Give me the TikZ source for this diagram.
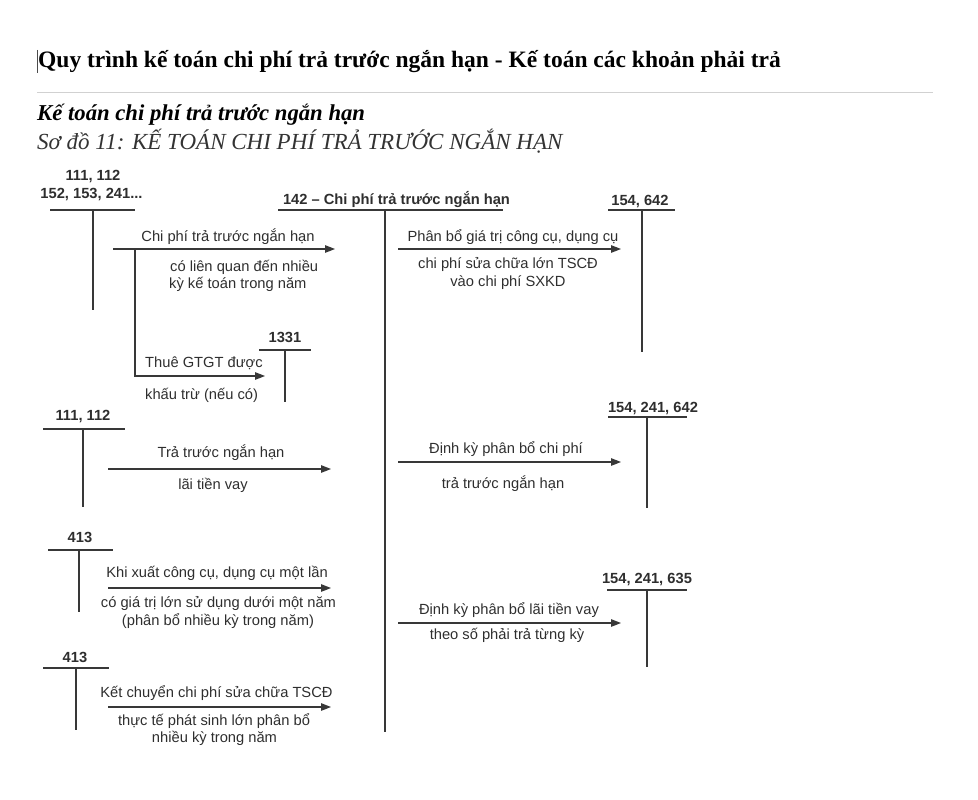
\documentclass[tikz,border=0pt]{standalone}
\usepackage{fontspec}
\setmainfont{Liberation Serif}
\newfontfamily\arialf{Liberation Sans}
\usetikzlibrary{arrows.meta}
\begin{document}
\begin{tikzpicture}[x=1pt,y=-1pt,
  lbl/.style={font=\arialf\fontsize{14.7}{16}\selectfont, text=black!82, inner sep=0pt, anchor=base},
  lblw/.style={lbl, anchor=base west},
  acc/.style={lbl, font=\arialf\bfseries\fontsize{14.7}{16}\selectfont},
  tline/.style={line width=1.3pt, draw=black!78},
  arr/.style={tline, -{Triangle[length=10pt,width=7.5pt]}},
  head/.style={anchor=base west, inner sep=0pt, text=black}
]
\useasboundingbox (0,0) rectangle (978,800);

% ---- headings ----
\draw[black!70, line width=0.9pt] (37,50) -- (37,73);
\node[head, font=\bfseries\fontsize{23.5}{26}\selectfont] (title) at (38,68)
  {Quy trình kế toán chi phí trả trước ngắn hạn - Kế toán các khoản phải trả};
\draw[black!18, line width=1pt] (37,93) -- (933,93);
\node[head, font=\bfseries\itshape\fontsize{22.7}{25}\selectfont] (sub) at (37,121)
  {Kế toán chi phí trả trước ngắn hạn};
\node[head, text=black!80, font=\itshape\fontsize{23}{25}\selectfont] (cap) at (37,149)
  {Sơ đồ 11: KẾ TOÁN CHI PHÍ TRẢ TRƯỚC NGẮN HẠN};

% ---- T-accounts ----
% account 111,112 / 152,153,241...
\node[acc] (a1n) at (93,180) {111, 112};
\node[acc] (a1m) at (91.5,198) {152, 153, 241...};
\coordinate (a1l) at (50,210); \coordinate (a1r) at (135,210);
\coordinate (a1t) at (93,210); \coordinate (a1b) at (93,310);
\draw[tline] (a1l) -- (a1r); \draw[tline] (a1t) -- (a1b);

% account 1331
\node[acc] (a2n) at (285,342) {1331};
\coordinate (a2l) at (259,350); \coordinate (a2r) at (311,350);
\coordinate (a2t) at (285,350); \coordinate (a2b) at (285,402);
\draw[tline] (a2l) -- (a2r); \draw[tline] (a2t) -- (a2b);

% account 142
\node[acc] (a3n) at (396.5,204) {142 – Chi phí trả trước ngắn hạn};
\coordinate (a3l) at (278,210); \coordinate (a3r) at (503,210);
\coordinate (a3t) at (385,210); \coordinate (a3b) at (385,732);
\draw[tline] (a3l) -- (a3r); \draw[tline] (a3t) -- (a3b);

% account 154, 642
\node[acc] (a4n) at (640,205) {154, 642};
\coordinate (a4l) at (608,210); \coordinate (a4r) at (675,210);
\coordinate (a4t) at (642,210); \coordinate (a4b) at (642,352);
\draw[tline] (a4l) -- (a4r); \draw[tline] (a4t) -- (a4b);

% account 111, 112 (second)
\node[acc] (a5n) at (83,420) {111, 112};
\coordinate (a5l) at (43,429); \coordinate (a5r) at (125,429);
\coordinate (a5t) at (83,429); \coordinate (a5b) at (83,507);
\draw[tline] (a5l) -- (a5r); \draw[tline] (a5t) -- (a5b);

% account 154, 241, 642
\node[acc] (a6n) at (653,412) {154, 241, 642};
\coordinate (a6l) at (608,417); \coordinate (a6r) at (687,417);
\coordinate (a6t) at (647,417); \coordinate (a6b) at (647,508);
\draw[tline] (a6l) -- (a6r); \draw[tline] (a6t) -- (a6b);

% account 413 (first)
\node[acc] (a7n) at (80,542) {413};
\coordinate (a7l) at (48,550); \coordinate (a7r) at (113,550);
\coordinate (a7t) at (79,550); \coordinate (a7b) at (79,612);
\draw[tline] (a7l) -- (a7r); \draw[tline] (a7t) -- (a7b);

% account 154, 241, 635
\node[acc] (a8n) at (647,583) {154, 241, 635};
\coordinate (a8l) at (607,590); \coordinate (a8r) at (687,590);
\coordinate (a8t) at (647,590); \coordinate (a8b) at (647,667);
\draw[tline] (a8l) -- (a8r); \draw[tline] (a8t) -- (a8b);

% account 413 (second)
\node[acc] (a9n) at (75,662) {413};
\coordinate (a9l) at (43,668); \coordinate (a9r) at (109,668);
\coordinate (a9t) at (76,668); \coordinate (a9b) at (76,730);
\draw[tline] (a9l) -- (a9r); \draw[tline] (a9t) -- (a9b);

% ---- arrows ----
% 1: Chi phi tra truoc ngan han
\coordinate (r1s) at (113,249); \coordinate (r1e) at (335,249);
\draw[arr] (r1s) -- (r1e);
\node[lbl] (r1a) at (228,241.5) {Chi phí trả trước ngắn hạn};
\node[lblw] (r1b) at (170,271) {có liên quan đến nhiều};
\node[lblw] (r1c) at (169,288) {kỳ kế toán trong năm};

% branch: VAT
\coordinate (r2s) at (135,249); \coordinate (r2k) at (135,376); \coordinate (r2e) at (265,376);
\draw[arr] (r2s) -- (r2k) -- (r2e);
\node[lblw] (r2a) at (145,367) {Thuê GTGT được};
\node[lblw] (r2b) at (145,399) {khấu trừ (nếu có)};

% 3: Phan bo
\coordinate (r3s) at (398,249); \coordinate (r3e) at (621,249);
\draw[arr] (r3s) -- (r3e);
\node[lbl] (r3a) at (513,241.5) {Phân bổ giá trị công cụ, dụng cụ};
\node[lbl] (r3b) at (508,268.5) {chi phí sửa chữa lớn TSCĐ};
\node[lbl] (r3c) at (508,286.5) {vào chi phí SXKD};

% 4: Tra truoc ngan han lai tien vay
\coordinate (r4s) at (108,469); \coordinate (r4e) at (331,469);
\draw[arr] (r4s) -- (r4e);
\node[lbl] (r4a) at (221,457.5) {Trả trước ngắn hạn};
\node[lbl] (r4b) at (213,489.5) {lãi tiền vay};

% 5: Dinh ky phan bo chi phi
\coordinate (r5s) at (398,462); \coordinate (r5e) at (621,462);
\draw[arr] (r5s) -- (r5e);
\node[lbl] (r5a) at (506,453.5) {Định kỳ phân bổ chi phí};
\node[lbl] (r5b) at (503,488.5) {trả trước ngắn hạn};

% 6: Khi xuat cong cu
\coordinate (r6s) at (108,588); \coordinate (r6e) at (331,588);
\draw[arr] (r6s) -- (r6e);
\node[lbl] (r6a) at (217,577.5) {Khi xuất công cụ, dụng cụ một lần};
\node[lbl] (r6b) at (218.5,607.5) {có giá trị lớn sử dụng dưới một năm};
\node[lbl] (r6c) at (218,625.5) {(phân bổ nhiều kỳ trong năm)};

% 7: Dinh ky phan bo lai tien vay
\coordinate (r7s) at (398,623); \coordinate (r7e) at (621,623);
\draw[arr] (r7s) -- (r7e);
\node[lbl] (r7a) at (509,614.5) {Định kỳ phân bổ lãi tiền vay};
\node[lbl] (r7b) at (507,639.5) {theo số phải trả từng kỳ};

% 8: Ket chuyen
\coordinate (r8s) at (108,707); \coordinate (r8e) at (331,707);
\draw[arr] (r8s) -- (r8e);
\node[lbl] (r8a) at (216.5,697.5) {Kết chuyển chi phí sửa chữa TSCĐ};
\node[lbl] (r8b) at (214,725.5) {thực tế phát sinh lớn phân bổ};
\node[lbl] (r8c) at (214.5,742.5) {nhiều kỳ trong năm};
\end{tikzpicture}
\end{document}
